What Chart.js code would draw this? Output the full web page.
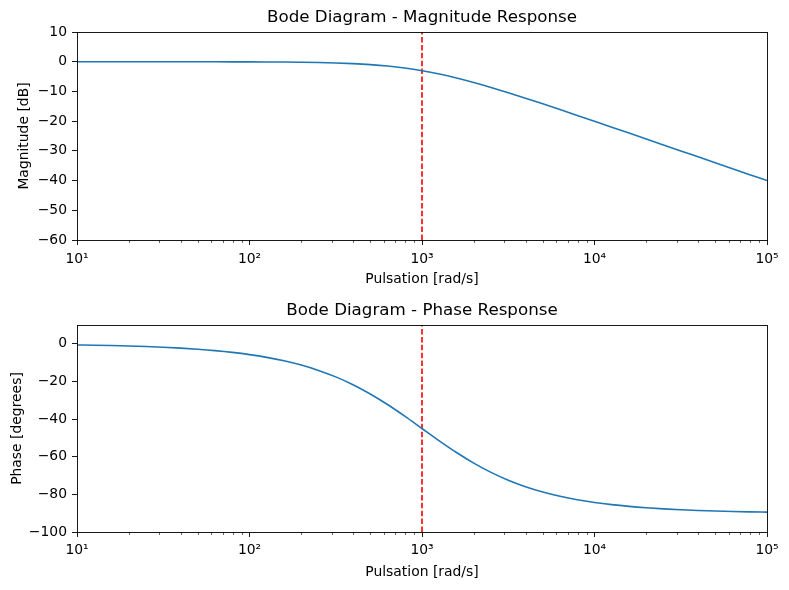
<!DOCTYPE html>
<html>
<head>
<meta charset="utf-8">
<script src="https://cdn.jsdelivr.net/npm/chart.js@4.4.1/dist/chart.umd.min.js"></script>
<style>
  html, body { margin: 0; padding: 0; background: #fff; }
  #wrap { position: relative; width: 789px; height: 590px; overflow: hidden; }
  canvas { position: absolute; left: 0; }
  #c1 { top: 0; }
  #c2 { top: 295px; }
</style>
</head>
<body>
<div id="wrap">
  <canvas id="c1" width="789" height="295"></canvas>
  <canvas id="c2" width="789" height="295"></canvas>
</div>
<script>
// ---- Data ----
const pulsation = [10, 12.59, 15.85, 19.95, 25.12, 31.62, 39.81, 50.12, 63.10, 79.43,
  100, 125.9, 158.5, 199.5, 251.2, 316.2, 398.1, 501.2, 631.0, 794.3,
  1000, 1259, 1585, 1995, 2512, 3162, 3981, 5012, 6310, 7943,
  10000, 12589, 15849, 19953, 25119, 31623, 39811, 50119, 63096, 79433, 100000];
const magnitudeDb = [-0.0004, -0.0007, -0.0011, -0.0017, -0.0027, -0.0043, -0.0069, -0.0109, -0.0173, -0.0273,
  -0.0432, -0.0683, -0.1077, -0.1695, -0.2657, -0.4139, -0.639, -0.973, -1.455, -2.124,
  -3.010, -4.124, -5.455, -6.973, -8.639, -10.414, -12.266, -14.170, -16.108, -18.068,
  -20.043, -22.027, -24.017, -26.011, -28.007, -30.004, -32.003, -34.002, -36.001, -38.001, -40.000];
const phaseDeg = [-0.57, -0.72, -0.91, -1.14, -1.44, -1.81, -2.28, -2.87, -3.61, -4.54,
  -5.71, -7.18, -9.01, -11.28, -14.10, -17.55, -21.70, -26.62, -32.25, -38.46,
  -45.00, -51.54, -57.75, -63.38, -68.30, -72.45, -75.90, -78.72, -80.99, -82.83,
  -84.29, -85.46, -86.39, -87.13, -87.72, -88.19, -88.56, -88.86, -89.09, -89.28, -89.43];
const cutoffPulsation = 1000;
const xTicks = [10, 100, 1000, 10000, 100000];
const magTicks = [-60, -50, -40, -30, -20, -10, 0, 10];
const magRange = [-60, 10];
const phaseTicks = [-100, -80, -60, -40, -20, 0];
const phaseRange = [-100, 10];

// ---- Styling ----
const FONT = "'DejaVu Sans', sans-serif";
Chart.defaults.color = '#000';
Chart.defaults.font.family = FONT;

const SUP = {'0':'⁰','1':'¹','2':'²','3':'³','4':'⁴','5':'⁵','6':'⁶','7':'⁷','8':'⁸','9':'⁹'};
function powLabel(v) {
  const e = Math.round(Math.log10(v));
  return '10' + String(e).split('').map(c => SUP[c] || c).join('');
}
function minusLabel(v) {
  return String(v).replace('-', '\u2212');
}

const framePlugin = {
  id: 'frame',
  afterDraw(chart) {
    const {ctx, chartArea: a, scales} = chart;
    const xs = scales.x;
    ctx.save();
    // minor ticks on log axis
    ctx.strokeStyle = '#000';
    ctx.lineWidth = 0.6;
    for (let k = 1; k < 5; k++) {
      for (let m = 2; m <= 9; m++) {
        const v = m * Math.pow(10, k);
        if (v < xs.min || v > xs.max) continue;
        const px = Math.round(xs.getPixelForValue(v)) + 0.5;
        ctx.beginPath();
        ctx.moveTo(px, a.bottom);
        ctx.lineTo(px, a.bottom + 3);
        ctx.stroke();
      }
    }
    // axes frame
    ctx.lineWidth = 0.9;
    ctx.strokeStyle = '#000';
    ctx.strokeRect(Math.round(a.left) + 0.5, Math.round(a.top) + 0.5,
      Math.round(a.right - a.left), Math.round(a.bottom - a.top));
    ctx.restore();
  }
};

function makeChart(id, cfg) {
  const series = pulsation.map((w, i) => ({x: w, y: cfg.values[i]}));
  const vline = [{x: cutoffPulsation, y: cfg.range[0]}, {x: cutoffPulsation, y: cfg.range[1]}];
  return new Chart(document.getElementById(id), {
    type: 'line',
    data: {
      datasets: [
        {
          data: series,
          borderColor: '#1f77b4',
          borderWidth: 1.6,
          pointRadius: 0,
          cubicInterpolationMode: 'monotone',
          fill: false
        },
        {
          data: vline,
          borderColor: '#ff0000',
          borderWidth: 1.6,
          borderDash: [5.5, 2.4],
          pointRadius: 0,
          fill: false
        }
      ]
    },
    options: {
      responsive: false,
      animation: false,
      devicePixelRatio: 1,
      layout: { padding: { left: 0, right: 22, top: 0, bottom: 0 } },
      plugins: {
        legend: { display: false },
        tooltip: { enabled: false },
        title: {
          display: true,
          fullSize: false,
          text: cfg.title,
          font: { family: FONT, size: 16.7, weight: 'normal' },
          color: '#000',
          padding: cfg.titlePad
        }
      },
      scales: {
        x: {
          type: 'logarithmic',
          min: xTicks[0],
          max: xTicks[xTicks.length - 1],
          afterBuildTicks(scale) { scale.ticks = xTicks.map(v => ({value: v, major: true})); },
          afterFit(scale) { scale.height = cfg.xHeight; },
          ticks: {
            autoSkip: false,
            maxRotation: 0,
            padding: cfg.xTickPad,
            font: { family: FONT, size: 13.9 },
            color: '#000',
            callback: (v) => powLabel(v)
          },
          grid: { display: true, drawOnChartArea: false, drawTicks: true, tickLength: 5, tickColor: '#000', tickWidth: 0.9 },
          border: { display: false },
          title: {
            display: true,
            text: 'Pulsation [rad/s]',
            font: { family: FONT, size: 13.9 },
            color: '#000',
            padding: { top: 0, bottom: cfg.xTitlePad }
          }
        },
        y: {
          type: 'linear',
          min: cfg.range[0],
          max: cfg.range[1],
          afterBuildTicks(scale) { scale.ticks = cfg.ticks.map(v => ({value: v})); },
          afterFit(scale) { scale.width = 77; },
          ticks: {
            autoSkip: false,
            padding: 5,
            font: { family: FONT, size: 13.9 },
            color: '#000',
            callback: (v) => minusLabel(v)
          },
          grid: { display: true, drawOnChartArea: false, drawTicks: true, tickLength: 5, tickColor: '#000', tickWidth: 0.9 },
          border: { display: false },
          title: {
            display: true,
            text: cfg.yTitle,
            font: { family: FONT, size: 13.9 },
            color: '#000',
            padding: { top: cfg.yTitlePad, bottom: 0 }
          }
        }
      }
    },
    plugins: [framePlugin]
  });
}

makeChart('c1', {
  values: magnitudeDb,
  range: magRange,
  ticks: magTicks,
  title: 'Bode Diagram - Magnitude Response',
  titlePad: { top: 8, bottom: 4 },
  xHeight: 55,
  xTickPad: 6,
  xTitlePad: 7.7,
  yTitle: 'Magnitude [dB]',
  yTitlePad: 16.5
});

makeChart('c2', {
  values: phaseDeg,
  range: phaseRange,
  ticks: phaseTicks,
  title: 'Bode Diagram - Phase Response',
  titlePad: { top: 6, bottom: 4 },
  xHeight: 58,
  xTickPad: 5,
  xTitlePad: 9.6,
  yTitle: 'Phase [degrees]',
  yTitlePad: 8.6
});
</script>
</body>
</html>
